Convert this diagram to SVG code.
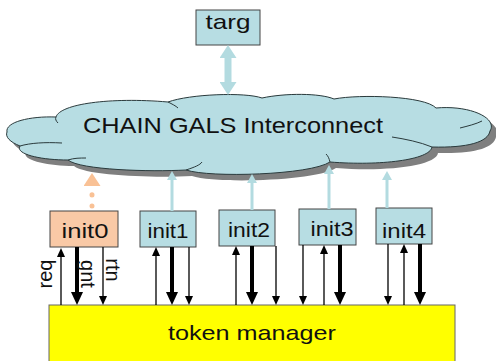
<svg xmlns="http://www.w3.org/2000/svg" width="496" height="361" viewBox="0 0 496 361">
<style>
text{font-family:"Liberation Sans",Arial,sans-serif;fill:#111}
.box{stroke:#444;stroke-width:1}
.blue{fill:#b7dde3}
.thin{stroke:#000;stroke-width:1.3;fill:none}
.thick{stroke:#000;stroke-width:4;fill:none}
.lb{stroke:#b3dbe0;stroke-width:3;fill:none}
.inner{fill:none;stroke:#2a3a3c;stroke-width:1}
</style>
<defs>
<marker id="ah" viewBox="0 0 9 8" markerWidth="9" markerHeight="8" refX="0" refY="4" orient="auto" markerUnits="userSpaceOnUse"><path d="M0,0 L9,4 L0,8 z" fill="#000"/></marker>
<marker id="ahT" viewBox="0 0 13 12" markerWidth="13" markerHeight="12" refX="0" refY="6" orient="auto" markerUnits="userSpaceOnUse"><path d="M0,0 L13,6 L0,12 z" fill="#000"/></marker>
<marker id="ahB" viewBox="0 0 9 10" markerWidth="9" markerHeight="10" refX="0" refY="5" orient="auto" markerUnits="userSpaceOnUse"><path d="M0,0 L9,5 L0,10 z" fill="#b3dbe0"/></marker>
<marker id="ahW" viewBox="0 0 13 17" markerWidth="13" markerHeight="17" refX="0" refY="8.5" orient="auto-start-reverse" markerUnits="userSpaceOnUse"><path d="M0,0 L13,8.5 L0,17 z" fill="#b3dbe0"/></marker>
<marker id="ahO" viewBox="0 0 13 17" markerWidth="13" markerHeight="17" refX="0" refY="8.5" orient="auto" markerUnits="userSpaceOnUse"><path d="M0,0 L13,8.5 L0,17 z" fill="#f9c195"/></marker>
</defs>

<g id="cloud">
<path transform="translate(6,6)" fill="#7f7f7f" d="M7,132 C5,122 30,116 56,117 C60,104 110,97 168,102 C190,94 245,92 262,98 C285,93 320,93 334,99 C360,94 425,96 436,108 C470,105 498,118 490,131 C488,142 468,148 432,147 C430,160 380,166 330,162 C310,175 210,178 186,170 C150,172 80,170 68,160 C40,160 15,154 20,146 C10,142 5,137 7,132 Z"/>
<path fill="#b7dde3" stroke="#2a3a3c" stroke-width="1" d="M7,132 C5,122 30,116 56,117 C60,104 110,97 168,102 C190,94 245,92 262,98 C285,93 320,93 334,99 C360,94 425,96 436,108 C470,105 498,118 490,131 C488,142 468,148 432,147 C430,160 380,166 330,162 C310,175 210,178 186,170 C150,172 80,170 68,160 C40,160 15,154 20,146 C10,142 5,137 7,132 Z"/>
<path class="inner" d="M20,146 C30,143 45,142 62,143"/>
<path class="inner" d="M68,160 C74,158 80,158 86,158"/>
<path class="inner" d="M56,117 C55,119 56,121 58,123"/>
<path class="inner" d="M460,128 C468,126 476,124 482,121"/>
<path class="inner" d="M432,147 C420,142 405,139 392,137"/>
<path class="inner" d="M186,170 C195,167 200,165 202,162"/>
<path class="inner" d="M168,102 C172,104 176,106 178,108"/>
<path class="inner" d="M330,162 C329,158 328,156 326,154"/>
<text x="233" y="133" font-size="22" text-anchor="middle" textLength="300" lengthAdjust="spacingAndGlyphs">CHAIN GALS Interconnect</text>
</g>

<g id="targ">
<rect class="box blue" x="196" y="10" width="64" height="35"/>
<text x="228" y="29" font-size="21" text-anchor="middle" textLength="45" lengthAdjust="spacingAndGlyphs">targ</text>
</g>

<g id="init0">
<rect class="box" fill="#f9c9a6" x="50" y="211" width="68" height="36"/>
<text x="85" y="238" font-size="20" text-anchor="middle" textLength="47" lengthAdjust="spacingAndGlyphs">init0</text>
</g>
<g id="init1">
<rect class="box blue" x="140" y="211" width="56" height="36"/>
<text x="168" y="238" font-size="20" text-anchor="middle" textLength="41" lengthAdjust="spacingAndGlyphs">init1</text>
</g>
<g id="init2">
<rect class="box blue" x="219" y="210" width="56" height="36"/>
<text x="249" y="237" font-size="20" text-anchor="middle" textLength="42" lengthAdjust="spacingAndGlyphs">init2</text>
</g>
<g id="init3">
<rect class="box blue" x="299" y="209" width="57" height="36"/>
<text x="332" y="236" font-size="20" text-anchor="middle" textLength="43" lengthAdjust="spacingAndGlyphs">init3</text>
</g>
<g id="init4">
<rect class="box blue" x="376" y="208" width="56" height="36"/>
<text x="404" y="238" font-size="20" text-anchor="middle" textLength="44" lengthAdjust="spacingAndGlyphs">init4</text>
</g>

<g id="token-manager">
<rect fill="#ffff00" stroke="#666" stroke-width="1" x="49" y="305" width="406" height="60"/>
<text x="252" y="340" font-size="21" text-anchor="middle" textLength="168" lengthAdjust="spacingAndGlyphs">token manager</text>
</g>

<g id="connectors">
<!-- targ <-> cloud -->
<line x1="228" y1="58" x2="228" y2="82" stroke="#b3dbe0" stroke-width="7" marker-start="url(#ahW)" marker-end="url(#ahW)"/>
<!-- init0 dotted orange -->
<line x1="92" y1="206" x2="92" y2="186" stroke="#f9c195" stroke-width="5" stroke-dasharray="0.1 11" stroke-linecap="round" marker-end="url(#ahO)"/>
<!-- init1..4 up -->
<line class="lb" x1="172" y1="211" x2="172" y2="180" marker-end="url(#ahB)"/>
<line class="lb" x1="252" y1="210" x2="252" y2="183" marker-end="url(#ahB)"/>
<line class="lb" x1="329" y1="209" x2="329" y2="174" marker-end="url(#ahB)"/>
<line class="lb" x1="387" y1="208" x2="387" y2="180" marker-end="url(#ahB)"/>

<!-- init0 -->
<line class="thin" x1="61" y1="305" x2="61" y2="257" marker-end="url(#ah)"/>
<line class="thick" x1="77" y1="247" x2="77" y2="292" marker-end="url(#ahT)"/>
<line class="thin" x1="103" y1="247" x2="103" y2="296" marker-end="url(#ah)"/>
<!-- init1 -->
<line class="thin" x1="156" y1="305" x2="156" y2="256" marker-end="url(#ah)"/>
<line class="thick" x1="172" y1="247" x2="172" y2="292" marker-end="url(#ahT)"/>
<line class="thin" x1="189" y1="247" x2="189" y2="296" marker-end="url(#ah)"/>
<!-- init2 -->
<line class="thin" x1="236" y1="305" x2="236" y2="255" marker-end="url(#ah)"/>
<line class="thick" x1="252" y1="246" x2="252" y2="292" marker-end="url(#ahT)"/>
<line class="thin" x1="276" y1="246" x2="276" y2="296" marker-end="url(#ah)"/>
<!-- init3 -->
<line class="thin" x1="303" y1="245" x2="303" y2="296" marker-end="url(#ah)"/>
<line class="thin" x1="324" y1="305" x2="324" y2="254" marker-end="url(#ah)"/>
<line class="thick" x1="340" y1="245" x2="340" y2="292" marker-end="url(#ahT)"/>
<!-- init4 -->
<line class="thin" x1="388" y1="244" x2="388" y2="296" marker-end="url(#ah)"/>
<line class="thin" x1="404" y1="305" x2="404" y2="253" marker-end="url(#ah)"/>
<line class="thick" x1="420" y1="244" x2="420" y2="292" marker-end="url(#ahT)"/>

<text transform="translate(52,274) rotate(-90)" font-size="20" text-anchor="middle">req</text>
<text transform="translate(81,274) rotate(90)" font-size="20" text-anchor="middle">gnt</text>
<text transform="translate(106,270) rotate(90)" font-size="20" text-anchor="middle">rtn</text>
</g>
</svg>
